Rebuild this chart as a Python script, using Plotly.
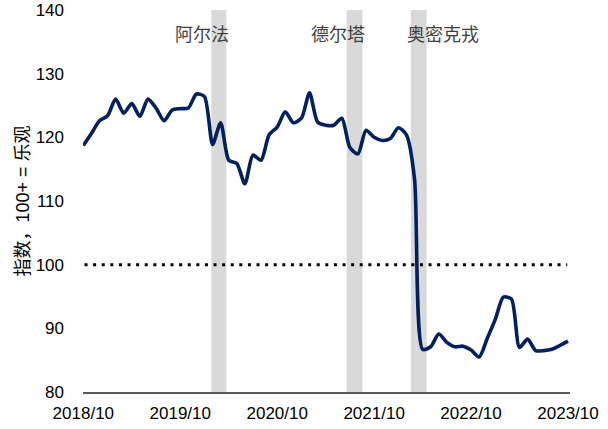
import plotly.graph_objects as go

# ---- data ----
month_index = list(range(61))  # 2018/10 ... 2023/10, monthly
index_values = [
    118.7, 120.6, 122.6, 123.4, 126.0, 123.8, 125.3, 123.3, 126.0, 124.6,
    122.6, 124.3, 124.5, 124.6, 126.8, 126.4, 118.9, 122.3, 116.4, 115.9,
    112.7, 117.2, 116.4, 120.4, 121.6, 124.0, 122.3, 123.0, 127.0, 122.4,
    121.9, 121.9, 123.0, 118.4, 117.4, 121.1, 120.0, 119.5, 119.8, 121.5,
    120.4, 113.5, 86.7, 87.1, 89.1, 87.8, 87.1, 87.2, 86.6, 85.5,
    88.4, 91.4, 94.9, 94.6, 87.0, 88.3, 86.5, 86.5, 86.7, 87.3,
    88.0,
]
tick_positions = [0, 12, 24, 36, 48, 60]
tick_labels = ["2018/10", "2019/10", "2020/10", "2021/10", "2022/10", "2023/10"]
y_ticks = [80, 90, 100, 110, 120, 130, 140]
neutral_level = 100
wave_names = ["阿尔法", "德尔塔", "奥密克戎"]
wave_start = [15.85, 32.6, 40.55]
wave_end = [17.7, 34.55, 42.5]
wave_label_x = [14.65, 31.55, 44.5]

NAVY = "#002060"
GRAY_TXT = "#404040"
FONT = "Liberation Sans, Arial, sans-serif"
CJK = "Noto Sans CJK SC, sans-serif"

fig = go.Figure()

# neutral dotted line
fig.add_trace(go.Scatter(
    x=[month_index[0] + 0.15, month_index[-1] - 0.1],
    y=[neutral_level, neutral_level],
    mode="lines",
    line=dict(color="black", width=3, dash="3px,5.6px"),
    hoverinfo="skip", showlegend=False,
))

# index line
fig.add_trace(go.Scatter(
    x=month_index, y=index_values, mode="lines",
    line=dict(color=NAVY, width=3.6, shape="spline", smoothing=0.7),
    showlegend=False,
))

shapes = []
for s, e in zip(wave_start, wave_end):
    shapes.append(dict(type="rect", xref="x", yref="y", x0=s, x1=e, y0=80, y1=140,
                       fillcolor="#d9d9d9", line=dict(width=0), layer="below"))

annotations = []
for name, lx in zip(wave_names, wave_label_x):
    annotations.append(dict(x=lx, y=136.4, xref="x", yref="y", text=name, showarrow=False,
                            font=dict(family=CJK, size=18, color=GRAY_TXT),
                            xanchor="center", yanchor="middle"))

fig.update_layout(
    width=608, height=429,
    margin=dict(l=83, r=38, t=10, b=37, autoexpand=False),
    plot_bgcolor="white", paper_bgcolor="white",
    shapes=shapes, annotations=annotations,
    xaxis=dict(
        range=[-0.04, 60.25], tickvals=tick_positions, ticktext=tick_labels,
        showgrid=False, zeroline=False, showline=True, linecolor="#595959", linewidth=1.5,
        ticks="", ticklabelstandoff=5, automargin=False,
        tickfont=dict(family=FONT, size=17, color="black"),
    ),
    yaxis=dict(
        range=[80, 140], tickvals=y_ticks,
        showgrid=False, zeroline=False, showline=False,
        ticks="", ticklabelstandoff=18, automargin=False,
        tickfont=dict(family=FONT, size=17, color="black"),
        title=dict(text="指数，100+ = 乐观", standoff=1,
                   font=dict(family="Liberation Sans, Noto Sans CJK SC, sans-serif",
                             size=18, color="black")),
    ),
)

fig.write_html("out.html", config={"displayModeBar": False},
               post_script="document.body.style.margin='0';")
